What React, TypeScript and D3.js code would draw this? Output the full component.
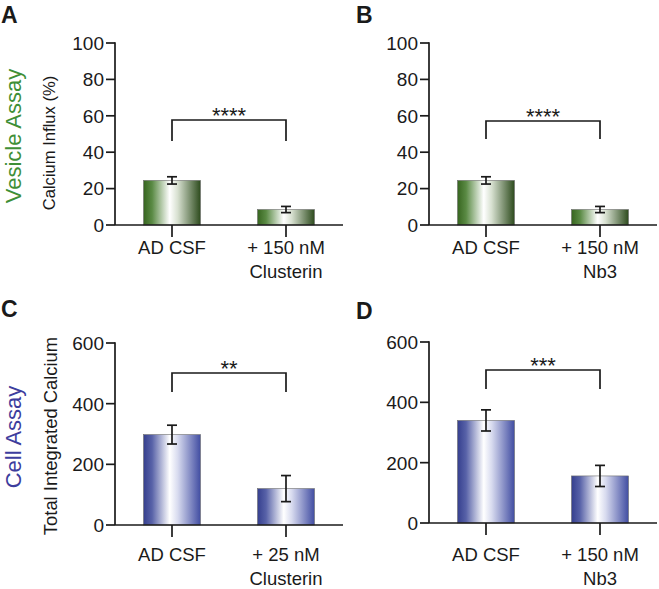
import React from "react";
import * as d3 from "d3";

const categoriesA = ["AD CSF", "+ 150 nM|Clusterin"];
const categoriesB = ["AD CSF", "+ 150 nM|Nb3"];
const categoriesC = ["AD CSF", "+ 25 nM|Clusterin"];
const categoriesD = ["AD CSF", "+ 150 nM|Nb3"];

const valuesA = [24.5, 8.5];
const errorsA = [2.0, 1.7];
const valuesB = [24.5, 8.5];
const errorsB = [2.0, 1.7];
const valuesC = [298, 120];
const errorsC = [31, 43];
const valuesD = [340, 156];
const errorsD = [35, 35];

const ticksVesicle = [0, 20, 40, 60, 80, 100];
const ticksCell = [0, 200, 400, 600];

const starsA = "****";
const starsB = "****";
const starsC = "**";
const starsD = "***";

const FONT = "Liberation Sans, Arial, Helvetica, sans-serif";
const INK = "#1a1a1a";

type PanelProps = {
  letter: string;
  letterX: number;
  letterY: number;
  axisX: number;
  yTop: number;
  yBottom: number;
  yMax: number;
  ticks: number[];
  cats: string[];
  values: number[];
  errors: number[];
  stars: string;
  bracketY: number;
  bracketDrop: number;
  gradId: string;
  labelOffset: number;
  tickFont: number;
};

function Panel(p: PanelProps) {
  const x = d3
    .scaleBand<string>()
    .domain(p.cats)
    .range([p.axisX, p.axisX + 228])
    .paddingInner(0.5)
    .paddingOuter(0.25);
  const y = d3.scaleLinear().domain([0, p.yMax]).range([p.yBottom, p.yTop]);
  const bw = x.bandwidth();
  const c0 = (x(p.cats[0]) as number) + bw / 2;
  const c1 = (x(p.cats[1]) as number) + bw / 2;
  return (
    <g>
      <text x={p.letterX} y={p.letterY} fontFamily={FONT} fontWeight="bold" fontSize={23} fill={INK}>
        {p.letter}
      </text>
      {p.cats.map((c, i) => {
        const x0 = x(c) as number;
        const v = p.values[i];
        const e = p.errors[i];
        const cx = x0 + bw / 2;
        return (
          <g key={c}>
            <rect
              x={x0}
              y={y(v)}
              width={bw}
              height={y(0) - y(v)}
              fill={`url(#${p.gradId})`}
              stroke="#6d6d6d"
              strokeWidth={0.6}
            />
            <line x1={cx} x2={cx} y1={y(v + e)} y2={y(v - e)} stroke={INK} strokeWidth={1.7} />
            <line x1={cx - 5} x2={cx + 5} y1={y(v + e)} y2={y(v + e)} stroke={INK} strokeWidth={1.7} />
            <line x1={cx - 5} x2={cx + 5} y1={y(v - e)} y2={y(v - e)} stroke={INK} strokeWidth={1.7} />
          </g>
        );
      })}
      {/* y axis */}
      <line x1={p.axisX} x2={p.axisX} y1={y(p.yMax) - 0.8} y2={y(0)} stroke={INK} strokeWidth={1.7} />
      {p.ticks.map((t) => (
        <g key={t}>
          <line x1={p.axisX - 9} x2={p.axisX} y1={y(t)} y2={y(t)} stroke={INK} strokeWidth={1.7} />
          <text
            x={p.axisX - 11}
            y={y(t)}
            dy="0.36em"
            textAnchor="end"
            fontFamily={FONT}
            fontSize={p.tickFont}
            fill={INK}
          >
            {t}
          </text>
        </g>
      ))}
      {/* x axis */}
      <line x1={p.axisX} x2={p.axisX + 228} y1={y(0)} y2={y(0)} stroke={INK} strokeWidth={1.7} />
      {p.cats.map((c) => {
        const cx = (x(c) as number) + bw / 2;
        const lines = c.split("|");
        return (
          <g key={"t" + c}>
            <line x1={cx} x2={cx} y1={y(0)} y2={y(0) + 12} stroke={INK} strokeWidth={1.7} />
            {lines.map((ln, j) => (
              <text
                key={j}
                x={cx}
                y={y(0) + p.labelOffset + j * 24}
                textAnchor="middle"
                fontFamily={FONT}
                fontSize={18.5}
                fill={INK}
              >
                {ln}
              </text>
            ))}
          </g>
        );
      })}
      {/* significance bracket */}
      <path
        d={`M${c0},${p.bracketY + p.bracketDrop}V${p.bracketY}H${c1}V${p.bracketY + p.bracketDrop}`}
        fill="none"
        stroke={INK}
        strokeWidth={1.7}
      />
      <text
        x={(c0 + c1) / 2}
        y={p.bracketY + 3}
        textAnchor="middle"
        fontFamily={FONT}
        fontSize={22}
        fill={INK}
      >
        {p.stars}
      </text>
    </g>
  );
}

export default function App() {
  return (
    <svg width={659} height={589} style={{ position: "absolute", left: 0, top: 0, background: "#fff" }}>
      <defs>
        <linearGradient id="gGreen" x1="0" x2="1" y1="0" y2="0">
          <stop offset="0%" stopColor="#37651f" />
          <stop offset="15%" stopColor="#5a8a44" />
          <stop offset="46%" stopColor="#ffffff" />
          <stop offset="60%" stopColor="#d7e0d0" />
          <stop offset="100%" stopColor="#2d4b1d" />
        </linearGradient>
        <linearGradient id="gBlue" x1="0" x2="1" y1="0" y2="0">
          <stop offset="0%" stopColor="#353f8e" />
          <stop offset="15%" stopColor="#5862a8" />
          <stop offset="46%" stopColor="#ffffff" />
          <stop offset="60%" stopColor="#d8dbef" />
          <stop offset="100%" stopColor="#414da2" />
        </linearGradient>
      </defs>
      <rect x={0} y={0} width={659} height={589} fill="#fff" />

      <text
        transform="translate(13,136) rotate(-90)"
        textAnchor="middle"
        dominantBaseline="central"
        fontFamily={FONT}
        fontSize={22}
        fill="#3f8f37"
      >
        Vesicle  Assay
      </text>
      <text
        transform="translate(49,143) rotate(-90)"
        textAnchor="middle"
        dominantBaseline="central"
        fontFamily={FONT}
        fontSize={16.6}
        fill={INK}
      >
        Calcium Influx (%)
      </text>
      <text
        transform="translate(13,437) rotate(-90)"
        textAnchor="middle"
        dominantBaseline="central"
        fontFamily={FONT}
        fontSize={22}
        fill="#3d3d9d"
      >
        Cell Assay
      </text>
      <text
        transform="translate(50,436) rotate(-90)"
        textAnchor="middle"
        dominantBaseline="central"
        fontFamily={FONT}
        fontSize={18.4}
        fill={INK}
      >
        Total Integrated Calcium
      </text>

      <Panel letter="A" letterX={1} letterY={23} axisX={115} yTop={43} yBottom={225} yMax={100}
        ticks={ticksVesicle} cats={categoriesA} values={valuesA} errors={errorsA} stars={starsA}
        bracketY={120} bracketDrop={21} gradId="gGreen" labelOffset={29} tickFont={19} />
      <Panel letter="B" letterX={356} letterY={23} axisX={429} yTop={43} yBottom={225} yMax={100}
        ticks={ticksVesicle} cats={categoriesB} values={valuesB} errors={errorsB} stars={starsB}
        bracketY={121} bracketDrop={18} gradId="gGreen" labelOffset={29} tickFont={19} />
      <Panel letter="C" letterX={1} letterY={317} axisX={115} yTop={343} yBottom={525} yMax={600}
        ticks={ticksCell} cats={categoriesC} values={valuesC} errors={errorsC} stars={starsC}
        bracketY={373} bracketDrop={19} gradId="gBlue" labelOffset={36} tickFont={19} />
      <Panel letter="D" letterX={356} letterY={319} axisX={429} yTop={342} yBottom={523} yMax={600}
        ticks={ticksCell} cats={categoriesD} values={valuesD} errors={errorsD} stars={starsD}
        bracketY={370} bracketDrop={19} gradId="gBlue" labelOffset={38} tickFont={19} />
    </svg>
  );
}
